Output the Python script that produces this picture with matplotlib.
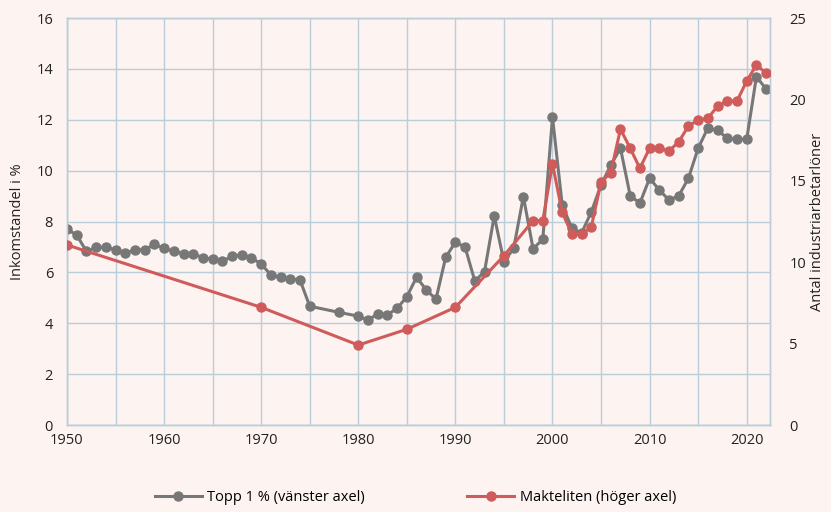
import matplotlib
matplotlib.use("Agg")
import matplotlib.pyplot as plt

plt.rcParams['font.family'] = ['Open Sans', 'DejaVu Sans']

top_years = list(range(1950, 1976)) + [1978] + list(range(1980, 2023))
top_vals = [7.70, 7.47, 6.83, 6.98, 6.98, 6.89, 6.75, 6.89, 6.89, 7.10,
            6.94, 6.83, 6.74, 6.74, 6.57, 6.53, 6.43, 6.64, 6.69, 6.57,
            6.33, 5.90, 5.80, 5.75, 5.70, 4.67,
            4.43,
            4.28, 4.12, 4.37, 4.33, 4.59, 5.04, 5.81, 5.31, 4.95, 6.59,
            7.19, 6.99, 5.66, 6.03, 8.22, 6.42, 6.94, 8.98, 6.93, 7.30,
            12.10, 8.65, 7.73, 7.55, 8.38, 9.44, 10.21, 10.88, 9.02, 8.72,
            9.70, 9.24, 8.84, 9.01, 9.70, 10.88, 11.68, 11.58, 11.28, 11.23,
            11.23, 13.69, 13.21]

elite_years = [1950, 1970, 1980, 1985, 1990, 1995, 1998, 1999, 2000, 2001,
               2002, 2003, 2004, 2005, 2006, 2007, 2008, 2009, 2010, 2011,
               2012, 2013, 2014, 2015, 2016, 2017, 2018, 2019, 2020, 2021, 2022]
elite_vals = [11.06, 7.23, 4.91, 5.88, 7.23, 10.40, 12.55, 12.55, 16.03, 13.06,
              11.73, 11.71, 12.18, 14.91, 15.50, 18.18, 17.00, 15.77, 17.00, 17.00,
              16.83, 17.40, 18.36, 18.73, 18.84, 19.59, 19.90, 19.90, 21.13, 22.11, 21.62]

x_labels = ['1950', '1960', '1970', '1980', '1990', '2000', '2010', '2020']
left_ticks = [0, 2, 4, 6, 8, 10, 12, 14, 16]
right_ticks = [0, 5, 10, 15, 20, 25]

bg = '#FDF3F1'
grid_c = '#B9CDDB'
gray = '#777777'
red = '#CF5B5B'
txt = '#222222'

fig = plt.figure(figsize=(8.31, 5.12), dpi=100, facecolor=bg)
ax = fig.add_axes([0.0806, 0.1699, 0.8460, 0.7949])
ax.set_facecolor(bg)
ax2 = ax.twinx()

ax.set_xlim(1950, 2022.4)
ax.set_ylim(0, 16)
ax2.set_ylim(0, 25)

xt = list(range(1950, 2021, 5))
ax.set_xticks(xt)
lab_map = {int(s): s for s in x_labels}
ax.set_xticklabels([lab_map.get(v, '') for v in xt])
ax.set_yticks(left_ticks)
ax2.set_yticks(right_ticks)

ax.grid(True, color=grid_c, linewidth=1.0)
ax.set_axisbelow(True)
for a in (ax, ax2):
    for s in a.spines.values():
        s.set_color(grid_c)
        s.set_linewidth(1.0)
    a.tick_params(length=0, labelsize=10.5, colors=txt)
ax.tick_params(axis='x', pad=6)
ax.tick_params(axis='y', pad=10)
ax2.tick_params(axis='y', pad=14)

l1, = ax.plot(top_years, top_vals, color=gray, linewidth=2.2, marker='o',
              markersize=6.5, label='Topp 1 % (vänster axel)', zorder=3)
l2, = ax2.plot(elite_years, elite_vals, color=red, linewidth=2.2, marker='o',
               markersize=6.5, label='Makteliten (höger axel)', zorder=3)

ax.set_ylabel('Inkomstandel i %', fontsize=10.5, color=txt, labelpad=8)
ax2.set_ylabel('Antal industriarbetarlöner', fontsize=10.5, color=txt, labelpad=3)

fig.legend(handles=[l1, l2], loc='lower center', bbox_to_anchor=(0.5, -0.012),
           ncol=2, frameon=False, fontsize=10.5, columnspacing=7, handlelength=3.2,
           handletextpad=0.4)

fig.savefig('out.png', dpi=100, facecolor=bg)
